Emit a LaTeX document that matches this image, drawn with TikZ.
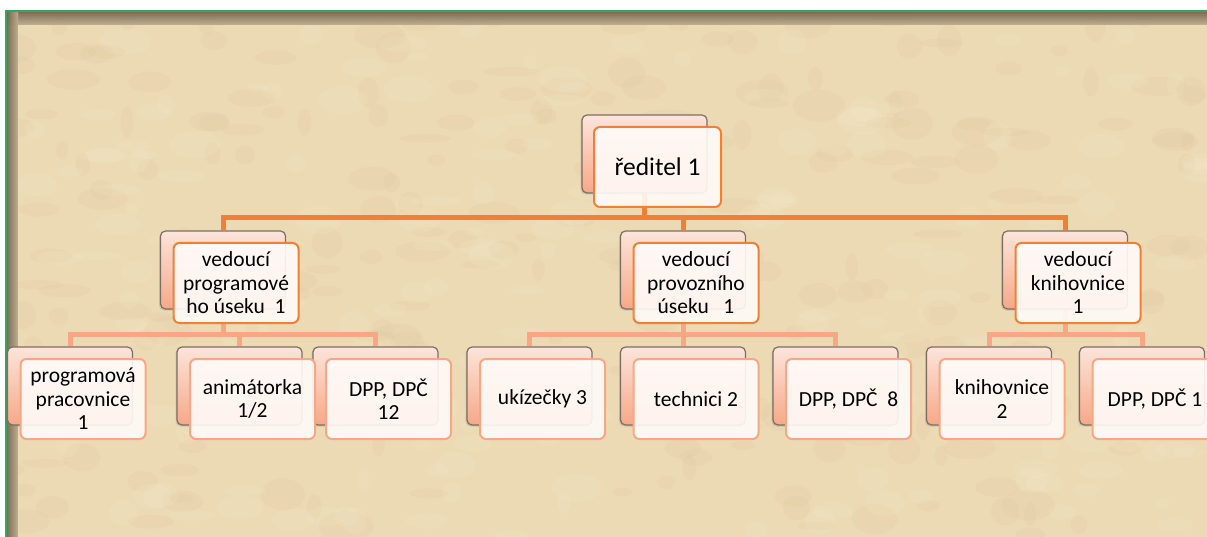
\documentclass[tikz,border=0pt]{standalone}
\usepackage{fontspec}
\setmainfont{Carlito}
\usetikzlibrary{shadows}
\definecolor{bgc}{RGB}{236,218,180}
\definecolor{bgdark}{RGB}{200,175,130}
\definecolor{bglight}{RGB}{248,236,208}
\definecolor{edgeshadow}{RGB}{140,122,95}
\definecolor{frame}{RGB}{46,168,90}
\definecolor{backline}{RGB}{125,110,100}
\definecolor{pinktop}{RGB}{252,228,218}
\definecolor{pinkbot}{RGB}{247,168,136}
\definecolor{frontfill}{RGB}{255,251,249}
\definecolor{orangeA}{RGB}{242,128,52}
\definecolor{orangeB}{RGB}{248,166,132}
\pgfdeclarelayer{bglayer}
\pgfdeclarelayer{connlayer}
\pgfsetlayers{bglayer,connlayer,main}
\begin{document}
\begin{tikzpicture}[x=1pt,y=-1pt,
  backbox/.style={draw=backline, line width=1.2pt, rounded corners=5pt,
    top color=pinktop, bottom color=pinkbot, minimum width=125pt,
    minimum height=78pt, inner sep=0pt,
    drop shadow={shadow xshift=-1.5pt, shadow yshift=-1.5pt, opacity=0.25}},
  frontA/.style={draw=orangeA, line width=2pt, rounded corners=6pt,
    fill=frontfill, fill opacity=0.9, text opacity=1, minimum width=125pt,
    minimum height=80pt, inner sep=2pt, align=center,
    font=\fontsize{21.5}{23.5}\selectfont},
  frontB/.style={frontA, draw=orangeB},
  connA/.style={draw=orangeA, line width=5pt},
  connB/.style={draw=orangeB, line width=5pt}]
\useasboundingbox (0,0) rectangle (1207,537);
\begin{pgfonlayer}{bglayer}
  \fill[white] (0,0) rectangle (1207,537);
  \fill[bgc] (6,11) rectangle (1207,537);
  \pgfmathsetseed{11}
  \foreach \i in {1,...,260}{
    \pgfmathsetmacro{\px}{10+1195*rnd}
    \pgfmathsetmacro{\py}{15+520*rnd}
    \pgfmathsetmacro{\ra}{6+22*rnd}
    \pgfmathsetmacro{\rb}{4+12*rnd}
    \fill[bgdark, opacity=0.07] (\px,\py) ellipse[x radius=\ra, y radius=\rb];
  }
  \foreach \i in {1,...,200}{
    \pgfmathsetmacro{\px}{10+1195*rnd}
    \pgfmathsetmacro{\py}{15+520*rnd}
    \pgfmathsetmacro{\ra}{6+20*rnd}
    \pgfmathsetmacro{\rb}{4+10*rnd}
    \fill[bglight, opacity=0.15] (\px,\py) ellipse[x radius=\ra, y radius=\rb];
  }
  \fill[top color=edgeshadow, bottom color=bgc, opacity=0.75] (6,11) rectangle (1207,25);
  \fill[left color=edgeshadow, right color=bgc, opacity=0.75] (6,11) rectangle (18,537);
  \fill[white] (0,0) rectangle (1207,10);
  \fill[white] (0,0) rectangle (5,537);
  \draw[frame, line width=2pt] (6,537) -- (6,11) -- (1207,11);
\end{pgfonlayer}

% back boxes
\node[backbox] (rb) at (644.5,154) {};
\node[backbox] (pb) at (223,270) {};
\node[backbox] (vb) at (683,270) {};
\node[backbox] (kb) at (1065,270) {};
\node[backbox] (c1b) at (70,386) {};
\node[backbox] (c2b) at (239.5,386) {};
\node[backbox] (c3b) at (375.5,386) {};
\node[backbox] (c4b) at (529.5,386) {};
\node[backbox] (c5b) at (683,386) {};
\node[backbox] (c6b) at (835.5,386) {};
\node[backbox] (c7b) at (989,386) {};
\node[backbox] (c8b) at (1142,386) {};

% front boxes
\node[frontA, minimum width=127pt, font=\fontsize{25.5}{28}\selectfont] (r) at (657.5,167) {ředitel 1};
\node[frontA] (p) at (236,283) {vedoucí\\programové\\ho úseku\ \ 1};
\node[frontA] (v) at (696,283) {vedoucí\\provozního\\úseku\ \ \ 1};
\node[frontA] (k) at (1078,283) {vedoucí\\knihovnice\\1};
\node[frontB] (c1) at (83,399) {programová\\pracovnice\\1};
\node[frontB] (c2) at (252.5,399) {animátorka\\1/2};
\node[frontB] (c3) at (388.5,399) {DPP, DPČ\\12};
\node[frontB] (c4) at (542.5,399) {ukízečky 3};
\node[frontB] (c5) at (696,399) {technici 2};
\node[frontB] (c6) at (848.5,399) {DPP, DPČ\ \ 8};
\node[frontB] (c7) at (1002,399) {knihovnice\\2};
\node[frontB] (c8) at (1155,399) {DPP, DPČ 1};

% connectors
\begin{pgfonlayer}{connlayer}
  \draw[connA] (rb.south) -- ++(0,24) -| (pb.north);
  \draw[connA] (rb.south) -- ++(0,24) -| (vb.north);
  \draw[connA] (rb.south) -- ++(0,24) -| (kb.north);
  \draw[connB] (pb.south) -- ++(0,25) -| (c1b.north);
  \draw[connB] (pb.south) -- ++(0,25) -| (c2b.north);
  \draw[connB] (pb.south) -- ++(0,25) -| (c3b.north);
  \draw[connB] (vb.south) -- ++(0,25) -| (c4b.north);
  \draw[connB] (vb.south) -- ++(0,25) -| (c5b.north);
  \draw[connB] (vb.south) -- ++(0,25) -| (c6b.north);
  \draw[connB] (kb.south) -- ++(0,25) -| (c7b.north);
  \draw[connB] (kb.south) -- ++(0,25) -| (c8b.north);
\end{pgfonlayer}
\end{tikzpicture}
\end{document}
